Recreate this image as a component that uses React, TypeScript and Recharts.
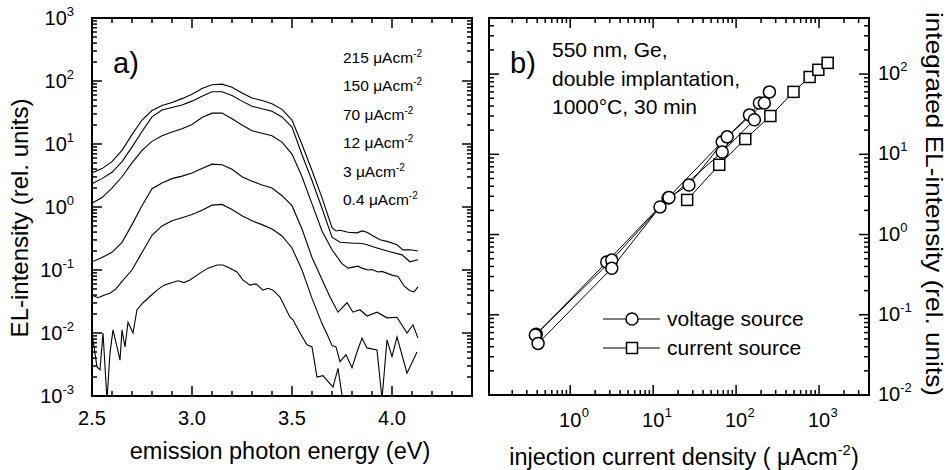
import React from 'react';
import { LineChart, Line, XAxis, YAxis, Legend } from 'recharts';

const FONT = 'Arial, "Liberation Sans", Helvetica, sans-serif';

// ---------------- Panel a: EL spectra ----------------
const currentDensityLabels = ['215', '150', '70', '12', '3', '0.4'];

const energy215 = [2.50,2.55,2.60,2.65,2.70,2.75,2.80,2.85,2.90,2.95,3.00,3.05,3.10,3.15,3.20,3.25,3.30,3.35,3.40,3.45,3.50,3.55,3.60,3.65,3.70,3.72,3.74,3.78,3.825,3.85,3.875,3.90,3.94,3.98,4.025,4.055,4.09,4.13];
const intensity215 = [3.47,4.07,5.25,7.94,14.1,24.0,34.0,40.7,45.7,52.5,61.7,75.9,87.1,89.1,79.4,64.6,53.7,49.0,43.7,35.5,24.0,9.8,3.80,1.41,0.468,0.417,0.427,0.398,0.389,0.417,0.398,0.355,0.302,0.282,0.251,0.209,0.209,0.200];

const energy150 = [2.50,2.55,2.60,2.65,2.70,2.75,2.80,2.85,2.90,2.95,3.00,3.05,3.10,3.15,3.20,3.25,3.30,3.35,3.40,3.45,3.50,3.55,3.60,3.65,3.70,3.74,3.79,3.85,3.875,3.925,3.99,4.05,4.09,4.13];
const intensity150 = [2.34,2.82,3.55,5.25,8.91,15.8,27.0,34.7,38.0,41.7,47.9,57.5,67.6,67.6,58.9,47.9,39.8,36.3,33.1,26.9,18.6,6.76,2.63,0.955,0.331,0.275,0.269,0.263,0.251,0.224,0.195,0.174,0.135,0.145];

const energy70 = [2.50,2.55,2.60,2.65,2.70,2.75,2.80,2.85,2.90,2.95,3.00,3.05,3.10,3.15,3.20,3.25,3.30,3.35,3.40,3.45,3.50,3.55,3.60,3.65,3.70,3.75,3.78,3.80,3.83,3.85,3.88,3.90,3.93,3.95,4.00,4.03,4.06,4.09,4.11,4.13];
const intensity70 = [1.15,1.41,2.00,3.02,5.01,7.94,11.0,13.5,15.5,17.4,20.4,26.3,30.9,30.9,25.1,20.0,16.2,14.8,13.5,10.7,6.92,3.02,1.12,0.417,0.209,0.126,0.107,0.110,0.115,0.107,0.100,0.102,0.093,0.095,0.083,0.079,0.056,0.047,0.045,0.054];

const energy12 = [2.50,2.55,2.60,2.65,2.70,2.75,2.80,2.85,2.90,2.95,3.00,3.05,3.10,3.15,3.20,3.25,3.30,3.35,3.40,3.45,3.50,3.55,3.60,3.65,3.69,3.73,3.775,3.805,3.84,3.875,3.925,3.975,4.025,4.075,4.105,4.13];
const intensity12 = [0.135,0.158,0.191,0.275,0.525,1.05,1.95,2.40,2.82,3.09,3.47,4.07,4.79,4.68,3.98,3.02,2.57,2.24,2.00,1.51,1.05,0.447,0.158,0.0708,0.0372,0.0214,0.0302,0.0214,0.0234,0.0186,0.0214,0.0174,0.0178,0.0100,0.0135,0.0083];

const energy3 = [2.50,2.53,2.56,2.59,2.62,2.65,2.70,2.75,2.80,2.85,2.90,2.95,3.00,3.05,3.10,3.15,3.20,3.25,3.30,3.35,3.40,3.45,3.50,3.55,3.60,3.65,3.68,3.70,3.72,3.74,3.77,3.80,3.825,3.85,3.875,3.925,3.95,3.975,4.00,4.025,4.075,4.125];
const intensity3 = [0.0398,0.0363,0.0398,0.0427,0.050,0.066,0.100,0.19,0.355,0.501,0.603,0.676,0.759,0.891,1.07,1.10,0.912,0.724,0.603,0.525,0.447,0.347,0.224,0.100,0.0355,0.0141,0.0089,0.0063,0.0060,0.0035,0.0045,0.0028,0.0050,0.0083,0.0058,0.0054,0.0009,0.0078,0.0042,0.0087,0.0023,0.0050];

const energy04 = [2.500,2.505,2.525,2.540,2.555,2.575,2.590,2.605,2.625,2.640,2.650,2.665,2.680,2.705,2.725,2.755,2.790,2.825,2.860,2.890,2.930,2.960,2.990,3.040,3.080,3.125,3.155,3.190,3.225,3.255,3.290,3.320,3.355,3.380,3.405,3.440,3.490,3.505,3.540,3.575,3.600,3.625,3.655,3.705,3.730,3.765,3.800,3.860,3.950,4.050,4.130];
const intensity04 = [0.0100,0.0078,0.0029,0.0026,0.0100,0.00087,0.0048,0.0112,0.0060,0.0037,0.0112,0.0060,0.0148,0.0100,0.0234,0.0302,0.0380,0.0479,0.0575,0.0617,0.0676,0.0631,0.0692,0.0891,0.107,0.120,0.120,0.107,0.0933,0.0692,0.0575,0.0603,0.0479,0.0513,0.0479,0.0372,0.0178,0.0162,0.0100,0.0065,0.0060,0.0020,0.0021,0.00138,0.00275,0.0005,0.0003,0.0004,0.0003,0.0004,0.0003];

const energyTicks = [2.5,2.6,2.7,2.8,2.9,3.0,3.1,3.2,3.3,3.4,3.5,3.6,3.7,3.8,3.9,4.0,4.1,4.2,4.3,4.4];
const energyMajorTicks = [2.5, 3.0, 3.5, 4.0];
const energyTickLabels = ['2.5', '3.0', '3.5', '4.0'];

// ---------------- Panel b: integrated EL ----------------
const voltageJ_A = [0.39, 2.76, 15.1, 68, 145, 191];
const voltageL_A = [0.057, 0.455, 2.86, 14.3, 31, 43.7];
const voltageJ_B = [0.38, 3.17, 15.5, 27, 78, 219, 252];
const voltageL_B = [0.056, 0.48, 2.9, 4.15, 16.5, 43.7, 60];
const voltageJ_C = [0.41, 3.17, 12.1, 68, 166];
const voltageL_C = [0.044, 0.38, 2.21, 10.7, 26.9];
const currentJ = [25.7, 62.6, 129, 259, 492, 770, 980, 1270];
const currentL = [2.7, 7.4, 15.5, 30, 60, 92, 113, 138];

const seriesNames = ['voltage source', 'current source'];
const annotationLines = ['550 nm, Ge,', 'double implantation,', '1000\u00b0C, 30 min'];

// ---------------- helpers ----------------
const toPoints = (xs: number[], ys: number[]) => xs.map((x, i) => ({ x, y: ys[i] }));

const logTicks = (lo: number, hi: number) => {
  const out: number[] = [];
  for (let e = Math.floor(Math.log10(lo)); e <= Math.ceil(Math.log10(hi)); e++) {
    for (let m = 1; m <= 9; m++) {
      const v = m * Math.pow(10, e);
      if (v >= lo * 0.9999 && v <= hi * 1.0001) out.push(v);
    }
  }
  return out;
};
const isDecade = (v: number) => Math.abs(Math.log10(v) - Math.round(Math.log10(v))) < 1e-6;
const near = (a: number, b: number) => Math.abs(a - b) < 1e-6;
const isEnergyMajor = (v: number) => energyMajorTicks.some((m) => near(m, v));

type Side = 'left' | 'right' | 'top' | 'bottom';
const makeTick = (side: Side, isMajor: (v: number) => boolean, label?: (v: number, x: number, y: number) => React.ReactNode) =>
  (props: any) => {
    const { x, y, payload } = props;
    const v = payload.value as number;
    const len = isMajor(v) ? 10 : 5;
    let x2 = x, y2 = y;
    if (side === 'left') x2 = x + len;
    else if (side === 'right') x2 = x - len;
    else if (side === 'bottom') y2 = y - len;
    else y2 = y + len;
    return (
      <g>
        <line x1={x} y1={y} x2={x2} y2={y2} stroke="#000" strokeWidth={1.5} />
        {label ? label(v, x, y) : null}
      </g>
    );
  };

const expText = (v: number) => {
  const e = Math.round(Math.log10(v));
  return e < 0 ? '-' + Math.abs(e) : String(e);
};

const axisLine = { stroke: '#000', strokeWidth: 2, strokeLinecap: 'square' as const };

// Panel a ticks
const intensityTicks = logTicks(0.001, 1000);
const aBottomTick = makeTick('bottom', isEnergyMajor, (v, x, y) => {
  const idx = energyMajorTicks.findIndex((m) => near(m, v));
  if (idx < 0) return null;
  return <text x={x} y={y + 29} textAnchor="middle" fontSize={20} fontFamily={FONT} fill="#000">{energyTickLabels[idx]}</text>;
});
const aTopTick = makeTick('top', isEnergyMajor);
const aLeftTick = makeTick('left', isDecade, (v, x, y) =>
  isDecade(v) ? (
    <text x={x - 18} y={y + 7} textAnchor="end" fontSize={20} fontFamily={FONT} fill="#000">
      10<tspan dy={-9} fontSize={13}>{expText(v)}</tspan>
    </text>
  ) : null
);
const aRightTick = makeTick('right', isDecade);

// Panel b ticks
const densityTicks = logTicks(0.105, 4000);
const elTicks = logTicks(0.01, 500);
const bBottomTick = makeTick('bottom', isDecade, (v, x, y) =>
  isDecade(v) ? (
    <g>
      <text x={x} y={y + 32} textAnchor="middle" fontSize={20} fontFamily={FONT} fill="#000">10</text>
      <text x={x + 11.5} y={y + 22} fontSize={13} fontFamily={FONT} fill="#000">{expText(v)}</text>
    </g>
  ) : null
);
const bTopTick = makeTick('top', isDecade);
const bLeftTick = makeTick('left', isDecade);
const bRightTick = makeTick('right', isDecade, (v, x, y) =>
  isDecade(v) ? (
    <text x={x + 9} y={y + 6} textAnchor="start" fontSize={20} fontFamily={FONT} fill="#000">
      10<tspan dy={-9} fontSize={13}>{expText(v)}</tspan>
    </text>
  ) : null
);

const squareDot = (props: any) => {
  const { cx, cy, index } = props;
  if (cx == null || cy == null) return <g key={index} />;
  return <rect key={index} x={cx - 5.5} y={cy - 5.5} width={11} height={11} fill="#fff" stroke="#000" strokeWidth={1.5} />;
};
const circleDot = { r: 6, fill: '#fff', stroke: '#000', strokeWidth: 1.5 };

const renderLegend = (props: any) => {
  const items = (props.payload || [])
    .filter((p: any) => p.type !== 'none')
    .sort((a: any, b: any) => seriesNames.indexOf(a.value) - seriesNames.indexOf(b.value));
  return (
    <svg width={230} height={64} style={{ display: 'block', overflow: 'visible' }}>
      {items.map((it: any, i: number) => {
        const cy = 15 + i * 29;
        return (
          <g key={i}>
            <line x1={0} x2={57} y1={cy} y2={cy} stroke="#000" strokeWidth={1} />
            {it.type === 'square' ? (
              <rect x={23.5} y={cy - 5.5} width={11} height={11} fill="#fff" stroke="#000" strokeWidth={1.5} />
            ) : (
              <circle cx={29} cy={cy} r={6} fill="#fff" stroke="#000" strokeWidth={1.5} />
            )}
            <text x={64} y={cy + 7} fontSize={21} fontFamily={FONT} fill="#000">{it.value}</text>
          </g>
        );
      })}
    </svg>
  );
};

const spectra = [
  { e: energy215, i: intensity215 },
  { e: energy150, i: intensity150 },
  { e: energy70, i: intensity70 },
  { e: energy12, i: intensity12 },
  { e: energy3, i: intensity3 },
  { e: energy04, i: intensity04 },
];

export default function App() {
  return (
    <div style={{ position: 'absolute', left: 0, top: 0, width: 948, height: 470, background: '#fff', overflow: 'hidden', fontFamily: FONT }}>
      <div style={{ position: 'absolute', left: 0, top: 0 }}>
        <LineChart width={480} height={470} margin={{ top: 0, right: 0, bottom: 0, left: 0 }}>
          <XAxis xAxisId="b" dataKey="x" type="number" domain={[2.5, 4.4]} allowDataOverflow ticks={energyTicks} interval={0}
            tickLine={false} tickSize={0} tickMargin={0} height={74} axisLine={axisLine} tick={aBottomTick} />
          <XAxis xAxisId="t" orientation="top" dataKey="x" type="number" domain={[2.5, 4.4]} allowDataOverflow ticks={energyTicks} interval={0}
            tickLine={false} tickSize={0} tickMargin={0} height={18} axisLine={axisLine} tick={aTopTick} />
          <YAxis yAxisId="l" type="number" scale="log" domain={[0.001, 1000]} allowDataOverflow ticks={intensityTicks} interval={0}
            tickLine={false} tickSize={0} tickMargin={0} width={92} axisLine={axisLine} tick={aLeftTick} />
          <YAxis yAxisId="r" orientation="right" type="number" scale="log" domain={[0.001, 1000]} allowDataOverflow ticks={intensityTicks} interval={0}
            tickLine={false} tickSize={0} tickMargin={0} width={8} axisLine={axisLine} tick={aRightTick} />
          {spectra.map((s, k) => (
            <Line key={k} xAxisId="b" yAxisId="l" data={toPoints(s.e, s.i)} dataKey="y" name={currentDensityLabels[k]}
              stroke="#000" strokeWidth={1.1} dot={false} isAnimationActive={false} type="linear" />
          ))}
        </LineChart>
      </div>
      <div style={{ position: 'absolute', left: 480, top: 0 }}>
        <LineChart width={468} height={470} margin={{ top: 0, right: 0, bottom: 0, left: 0 }}>
          <XAxis xAxisId="b" dataKey="x" type="number" scale="log" domain={[0.105, 4000]} allowDataOverflow ticks={densityTicks} interval={0}
            tickLine={false} tickSize={0} tickMargin={0} height={75} axisLine={axisLine} tick={bBottomTick} />
          <XAxis xAxisId="t" orientation="top" dataKey="x" type="number" scale="log" domain={[0.105, 4000]} allowDataOverflow ticks={densityTicks} interval={0}
            tickLine={false} tickSize={0} tickMargin={0} height={18} axisLine={axisLine} tick={bTopTick} />
          <YAxis yAxisId="l" type="number" scale="log" domain={[0.01, 500]} allowDataOverflow ticks={elTicks} interval={0}
            tickLine={false} tickSize={0} tickMargin={0} width={9} axisLine={axisLine} tick={bLeftTick} />
          <YAxis yAxisId="r" orientation="right" type="number" scale="log" domain={[0.01, 500]} allowDataOverflow ticks={elTicks} interval={0}
            tickLine={false} tickSize={0} tickMargin={0} width={79} axisLine={axisLine} tick={bRightTick} />
          <Line xAxisId="b" yAxisId="r" data={toPoints(voltageJ_A, voltageL_A)} dataKey="y" name={seriesNames[0]} legendType="circle"
            stroke="#000" strokeWidth={1} dot={circleDot} isAnimationActive={false} type="linear" />
          <Line xAxisId="b" yAxisId="r" data={toPoints(voltageJ_B, voltageL_B)} dataKey="y" name="voltage source B" legendType="none"
            stroke="#000" strokeWidth={1} dot={circleDot} isAnimationActive={false} type="linear" />
          <Line xAxisId="b" yAxisId="r" data={toPoints(voltageJ_C, voltageL_C)} dataKey="y" name="voltage source C" legendType="none"
            stroke="#000" strokeWidth={1} dot={circleDot} isAnimationActive={false} type="linear" />
          <Line xAxisId="b" yAxisId="r" data={toPoints(currentJ, currentL)} dataKey="y" name={seriesNames[1]} legendType="square"
            stroke="#000" strokeWidth={1} dot={squareDot} isAnimationActive={false} type="linear" />
          <Legend layout="vertical" align="center" verticalAlign="middle" content={renderLegend}
            wrapperStyle={{ left: 123, top: 304, width: 230, height: 64 }} />
        </LineChart>
      </div>
      <svg width={948} height={470} style={{ position: 'absolute', left: 0, top: 0, pointerEvents: 'none' }} fontFamily={FONT}>
        <text x={113} y={73} fontSize={29} fill="#000">a)</text>
        {currentDensityLabels.map((lbl, k) => (
          <text key={lbl} x={343} y={[63, 91, 120, 148, 177, 205][k]} fontSize={15.5} fill="#000">
            {lbl} {'\u03bcAcm'}<tspan dy={-6} fontSize={10}>-2</tspan>
          </text>
        ))}
        <text x={510} y={73} fontSize={29} fill="#000">b)</text>
        {annotationLines.map((t, k) => (
          <text key={t} x={552} y={[57, 86, 114][k]} fontSize={21} fill="#000">{t}</text>
        ))}
        <text x={280} y={459} textAnchor="middle" fontSize={23.5} fill="#000">emission photon energy (eV)</text>
        <text x={684} y={465} textAnchor="middle" fontSize={23.5} fill="#000">
          injection current density ( {'\u03bcAcm'}<tspan dy={-10} fontSize={15}>-2</tspan><tspan dy={10}>)</tspan>
        </text>
        <text transform="translate(28,218) rotate(-90)" textAnchor="middle" fontSize={24} fill="#000">EL-intensity (rel. units)</text>
        <text transform="translate(926,204) rotate(90)" textAnchor="middle" fontSize={24} textLength={384} lengthAdjust="spacingAndGlyphs" fill="#000">integrated EL-intensity (rel. units)</text>
      </svg>
    </div>
  );
}
